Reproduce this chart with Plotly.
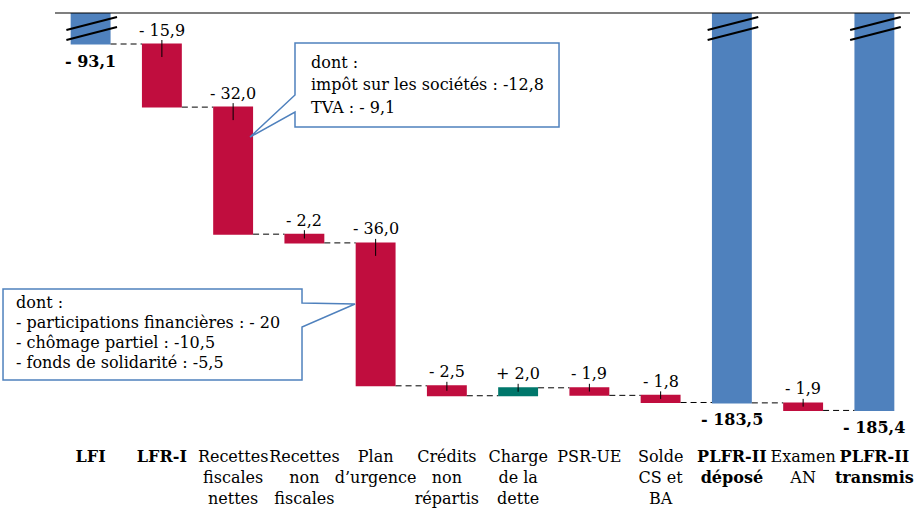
import plotly.graph_objects as go

# données (Md€)
categories = ['LFI', 'LFR-I', 'Recettes fiscales nettes', 'Recettes non fiscales',
              'Plan d’urgence', 'Crédits non répartis', 'Charge de la dette', 'PSR-UE',
              'Solde CS et BA', 'PLFR-II déposé', 'Examen AN', 'PLFR-II transmis']
tick_labels = ['<b>LFI</b>', '<b>LFR-I</b>', 'Recettes<br>fiscales<br>nettes',
               'Recettes<br>non<br>fiscales', 'Plan<br>d’urgence', 'Crédits<br>non<br>répartis',
               'Charge<br>de la<br>dette', 'PSR-UE', 'Solde<br>CS et<br>BA',
               '<b>PLFR-II</b><br><b>déposé</b>', 'Examen<br>AN', '<b>PLFR-II</b><br><b>transmis</b>']
values = [-93.1, -15.9, -32.0, -2.2, -36.0, -2.5, 2.0, -1.9, -1.8, -183.5, -1.9, -185.4]
measures = ['absolute', 'relative', 'relative', 'relative', 'relative', 'relative',
            'relative', 'relative', 'relative', 'absolute', 'relative', 'absolute']

callout_fiscal = ['dont :', 'impôt sur les sociétés : -12,8', 'TVA : - 9,1']
callout_plan = ['dont :', '- participations financières : - 20',
                '- chômage partiel : -10,5', '- fonds de solidarité : -5,5']

RED = '#C00D3E'
TEAL = '#00776B'
BLUE = '#4F81BD'
FONT = '"DejaVu Serif", "Liberation Serif", serif'
FS = 16

W, H = 924, 521
L, R, T, B = 55, 910, 13, 440          # plot area in pixels
PXU = 3.97                              # pixels per Md€ (broken axis)
y_top = values[0] + (44 - T) / PXU
y_bot = values[0] - (B - 44) / PXU


def fmt(v):
    return ('+ ' if v > 0 else '- ') + f'{abs(v):.1f}'.replace('.', ',')


def px(x):
    return (x - L) / (R - L)


def py(y):
    return (B - y) / (B - T)


fig = go.Figure(go.Waterfall(
    x=categories,
    y=values,
    measure=measures,
    decreasing=dict(marker=dict(color=RED)),
    increasing=dict(marker=dict(color=TEAL)),
    totals=dict(marker=dict(color=BLUE)),
    connector=dict(mode='between', line=dict(color='black', width=1, dash='6px,4px')),
    textinfo='none',
    hoverinfo='skip',
))

shapes = []
annotations = []
cum = 0.0
for i, (v, m) in enumerate(zip(values, measures)):
    if m == 'absolute':
        cum = v
        annotations.append(dict(x=i, y=v, text=f'<b>{fmt(v)}</b>', showarrow=False,
                                yshift=-17, font=dict(family=FONT, size=FS)))
        # marques de coupure
        for ya, yb in ((30, 17), (40, 27)):
            shapes.append(dict(type='line', xref='x', yref='y domain',
                               x0=i - 0.34, x1=i + 0.37, y0=py(ya), y1=py(yb),
                               line=dict(color='black', width=2)))
    else:
        start, cum = cum, cum + v
        top = max(start, cum)
        annotations.append(dict(x=i, y=top, text=fmt(v), showarrow=False,
                                yshift=14, font=dict(family=FONT, size=FS)))
        depth = min(13, abs(v) * PXU / 2) / PXU
        shapes.append(dict(type='line', xref='x', yref='y',
                           x0=i, x1=i, y0=top + 4 / PXU, y1=top - depth,
                           line=dict(color='black', width=1)))

# ligne d'axe en haut
shapes.append(dict(type='line', xref='paper', yref='paper', x0=0, x1=1, y0=1, y1=1,
                   line=dict(color='black', width=1.2)))


def callout(x0, y0, x1, y1, wedge, side):
    (ya, yb), (tx, ty) = wedge
    if side == 'left':
        pts = [(x0, y0), (x1, y0), (x1, y1), (x0, y1), (x0, yb), (tx, ty), (x0, ya)]
    else:
        pts = [(x0, y0), (x1, y0), (x1, ya), (tx, ty), (x1, yb), (x1, y1), (x0, y1)]
    path = 'M ' + ' L '.join(f'{px(a):.4f},{py(b):.4f}' for a, b in pts) + ' Z'
    return dict(type='path', xref='paper', yref='paper', path=path,
                fillcolor='white', line=dict(color=BLUE, width=1.5))


def callout_text(lines, x, y_first, step):
    for k, line in enumerate(lines):
        annotations.append(dict(xref='paper', yref='paper', x=px(x), y=py(y_first + k * step),
                                xanchor='left', yanchor='middle', align='left',
                                showarrow=False, text=line,
                                font=dict(family=FONT, size=FS)))


shapes.append(callout(295, 43, 559, 127, ((95, 112), (250, 137)), 'left'))
shapes.append(callout(3, 289, 302, 380, ((303, 327), (355, 304)), 'right'))
callout_text(callout_fiscal, 309, 62, 22.5)
callout_text(callout_plan, 14, 302, 20.3)

fig.update_layout(
    width=W, height=H,
    margin=dict(l=L, r=W - R, t=T, b=H - B),
    plot_bgcolor='white', paper_bgcolor='white',
    font=dict(family=FONT, size=FS, color='black'),
    showlegend=False,
    waterfallgap=0.44,
    shapes=shapes,
    annotations=annotations,
)
fig.update_xaxes(tickmode='array', tickvals=categories, ticktext=tick_labels,
                 tickangle=0, automargin=False,
                 showline=False, showgrid=False, ticks='', ticklabelstandoff=5,
                 tickfont=dict(family=FONT, size=FS))
fig.update_yaxes(range=[y_bot, y_top], visible=False, showgrid=False, zeroline=False)

# la page sans marge pour que la figure occupe toute la fenêtre
fig.write_html('out.html', config={'displayModeBar': False},
               post_script="document.body.style.margin='0';")
